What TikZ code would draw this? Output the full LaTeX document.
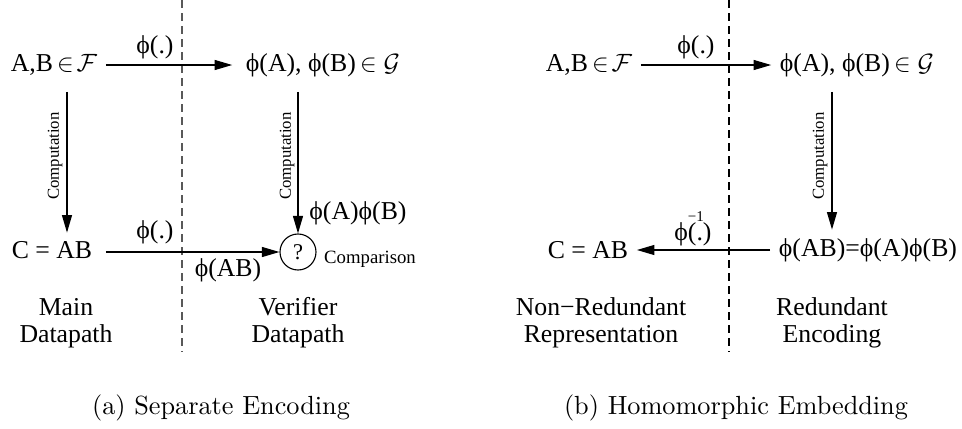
\documentclass[tikz,border=0pt]{standalone}
\usepackage{fontspec}
\usepackage{amssymb}
\newfontfamily\tms{Liberation Serif}
\usetikzlibrary{arrows.meta}
\tikzset{
  lbl/.style={font=\tms\fontsize{10.3}{10.8}\selectfont,align=center,inner sep=3.3pt},
  clbl/.style={font=\tms\fontsize{6.7}{8}\selectfont,rotate=90,inner sep=1pt},
  slbl/.style={font=\tms\fontsize{7.5}{9}\selectfont,inner sep=1pt},
  caplbl/.style={font=\fontsize{10.5}{12}\selectfont},
  arr/.style={-{Triangle[length=7pt,width=4pt]},line width=0.45pt},
  sep/.style={dash pattern=on 3.2pt off 2pt,line width=0.45pt},
  cmpnode/.style={circle,draw,line width=0.45pt,minimum size=14.4pt,inner sep=0pt,font=\tms\fontsize{9}{10}\selectfont},
}
\newcommand{\phiinv}{ϕ\makebox[0pt][l]{\raisebox{7.5pt}{\fontsize{6}{7}\selectfont −1}}(.)}

\begin{document}
\begin{tikzpicture}[x=0.4pt,y=-0.4pt]
  \useasboundingbox (0,0) rectangle (962,428);
  % (a) separate encoding
  \draw[sep,black!65] (182,0) -- (182,352);
  \node[lbl] (ab1) at (54,65) {A,B$\,\in\!\mathcal{F}$};
  \node[lbl] (g1) at (323,65) {ϕ(A), ϕ(B)$\,\in\mathcal{G}$};
  \node[lbl] (c1) at (52,250) {C = AB};
  \node[cmpnode] (cmp) at (298,252) {?};
  \coordinate (k1) at (67,0);
  \draw[arr,shorten >=2pt] (ab1) -- (g1);
  \draw[arr,shorten <=3pt] (ab1.south -| k1) -- (c1.north -| k1);
  \draw[arr,shorten <=2.6pt] (g1.south -| cmp) -- (cmp);
  \draw[arr,shorten <=2pt] (c1.east |- cmp) -- (cmp);
  \node[lbl] (phi1) at (155,47) {ϕ(.)};
  \node[lbl] (phi2) at (155,232) {ϕ(.)};
  \node[lbl] (phiab) at (228,270) {ϕ(AB)};
  \node[lbl] (phiaphib) at (358,213) {ϕ(A)ϕ(B)};
  \node[slbl] (cmptxt) at (370,259) {Comparison};
  \node[clbl] (comp1) at (55,156) {Computation};
  \node[clbl] (comp2) at (287,156) {Computation};
  \node[lbl] (main) at (66,323) {Main\\Datapath};
  \node[lbl] (verif) at (298,323) {Verifier\\Datapath};
  \node[caplbl] (capa) at (221,408) {(a) Separate Encoding};
  % (b) homomorphic embedding
  \draw[sep] (729,0) -- (729,352);
  \node[lbl] (ab2) at (589,65) {A,B$\,\in\!\mathcal{F}$};
  \node[lbl] (g2) at (857,65) {ϕ(A), ϕ(B)$\,\in\mathcal{G}$};
  \node[lbl] (fab) at (868,250) {ϕ(AB)=ϕ(A)ϕ(B)};
  \node[lbl] (c2) at (588,250) {C = AB};
  \coordinate (k2) at (832,0);
  \draw[arr] (ab2) -- (g2);
  \draw[arr,shorten <=2.6pt] (g2.south -| k2) -- (fab.north -| k2);
  \draw[arr] (fab) -- (c2);
  \node[lbl] (phi3) at (696,47) {ϕ(.)};
  \node[lbl] (phi4) at (693,229) {\phiinv};
  \node[clbl] (comp3) at (820,156) {Computation};
  \node[lbl] (nonred) at (601,323) {Non−Redundant\\Representation};
  \node[lbl] (red) at (832,323) {Redundant\\Encoding};
  \node[caplbl] (capb) at (736,408) {(b) Homomorphic Embedding};
\end{tikzpicture}
\end{document}
